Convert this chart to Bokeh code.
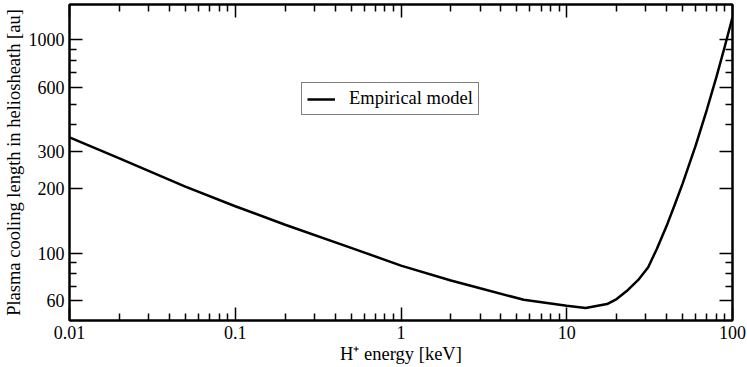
from bokeh.plotting import figure
from bokeh.models import (FixedTicker, LogAxis, Range1d, CustomJSTickFormatter,
                          Legend, LegendItem)
from bokeh.embed import file_html
from bokeh.resources import INLINE

# Data (H+ energy in keV, cooling length in au)
energy = [0.01, 0.02, 0.05, 0.1, 0.2, 0.5, 1, 2, 3, 5.5, 10, 13, 17.5, 20, 23,
          27, 31, 35, 40, 45, 50, 60, 70, 80, 90, 100]
length = [349, 278, 205, 166, 136, 106, 87.5, 74.5, 68.5, 60.5, 56.8, 55.4, 57.8,
          61, 66.5, 75, 86, 105, 134, 170, 212, 320, 470, 670, 935, 1275]

x_major = [0.01, 0.1, 1, 10, 100]
x_minor = [m * 10.0 ** e for e in range(-2, 2) for m in range(2, 10)]
y_major = [60, 100, 200, 300, 600, 1000]
y_minor = [70, 80, 90, 400, 500, 700, 800, 900]

FONT = "Liberation Serif"

p = figure(width=747, height=367, x_axis_type="log", y_axis_type="log",
           x_range=Range1d(0.01, 100), y_range=Range1d(48.4, 1463),
           output_backend="svg", toolbar_location=None, tools="",
           min_border_left=68, min_border_right=15, min_border_top=4,
           min_border_bottom=47)

p.background_fill_color = "white"
p.border_fill_color = "white"
p.outline_line_color = "black"
p.outline_line_width = 2
p.xgrid.visible = False
p.ygrid.visible = False

xt = FixedTicker(ticks=x_major, minor_ticks=x_minor)
yt = FixedTicker(ticks=y_major, minor_ticks=y_minor)
fmt = CustomJSTickFormatter(code="return tick.toString();")
blank = CustomJSTickFormatter(code="return '';")


def style(ax):
    ax.axis_line_color = "black"
    ax.axis_line_width = 2
    ax.major_tick_line_color = "black"
    ax.major_tick_line_width = 1.5
    ax.minor_tick_line_color = "black"
    ax.minor_tick_line_width = 1.5
    ax.major_tick_in = 13
    ax.major_tick_out = 0
    ax.minor_tick_in = 7
    ax.minor_tick_out = 0
    ax.major_label_text_font = FONT
    ax.major_label_text_font_size = "18px"
    ax.major_label_text_color = "black"
    ax.axis_label_text_font = FONT
    ax.axis_label_text_font_size = "18.5px"
    ax.axis_label_text_font_style = "normal"
    ax.axis_label_text_color = "black"


xa = p.xaxis[0]
xa.ticker = xt
xa.formatter = fmt
style(xa)
xa.axis_label = "H\u207a energy [keV]"
xa.major_label_standoff = 5
xa.axis_label_standoff = 2

ya = p.yaxis[0]
ya.ticker = yt
ya.formatter = fmt
style(ya)
ya.axis_label = "Plasma cooling length in heliosheath [au]"
ya.major_label_standoff = 5
ya.axis_label_standoff = 2

for place, tk in (("right", yt), ("above", xt)):
    ax = LogAxis(ticker=tk, formatter=blank)
    style(ax)
    ax.major_label_text_font_size = "0px"
    ax.major_label_standoff = 0
    p.add_layout(ax, place)

r = p.line(energy, length, line_width=2.5, line_color="black")

legend = Legend(items=[LegendItem(label="Empirical model", renderers=[r])],
                location=(232, 205))
legend.label_text_font = FONT
legend.label_text_font_size = "18.5px"
legend.label_text_color = "black"
legend.border_line_color = "black"
legend.border_line_width = 1.5
legend.padding = 5
legend.margin = 0
legend.label_height = 18
legend.glyph_height = 18
legend.glyph_width = 28
legend.label_standoff = 14
legend.background_fill_alpha = 1
p.add_layout(legend)

open("out.html", "w").write(file_html(p, INLINE))
